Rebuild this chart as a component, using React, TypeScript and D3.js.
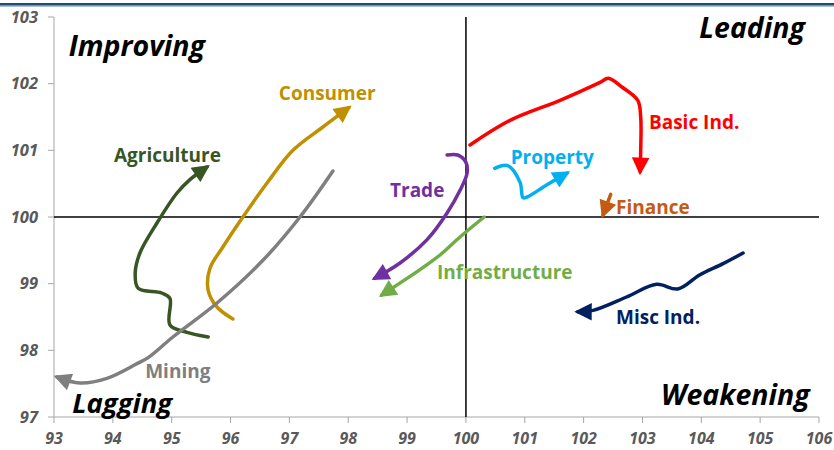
import React from "react";
import * as d3 from "d3";

const xTicks = [93, 94, 95, 96, 97, 98, 99, 100, 101, 102, 103, 104, 105, 106];
const yTicks = [97, 98, 99, 100, 101, 102, 103];

const basicInd: [number, number][] = [[100.07, 101.08], [100.75, 101.45], [101.6, 101.75], [102.28, 102.02], [102.42, 102.08], [102.65, 101.95], [102.92, 101.75], [102.97, 101.5], [102.97, 101.0], [102.96, 100.68]];
const property: [number, number][] = [[100.49, 100.73], [100.71, 100.77], [100.92, 100.52], [100.97, 100.29], [101.04, 100.3], [101.37, 100.48], [101.72, 100.66]];
const finance: [number, number][] = [[102.46, 100.34], [102.33, 100.03]];
const trade: [number, number][] = [[99.68, 100.93], [99.86, 100.93], [100.0, 100.82], [100.02, 100.66], [99.9, 100.4], [99.68, 100.06], [99.34, 99.66], [98.88, 99.31], [98.45, 99.08]];
const infrastructure: [number, number][] = [[100.31, 100.0], [99.9, 99.7], [99.56, 99.43], [99.22, 99.21], [98.76, 98.94], [98.57, 98.83]];
const miscInd: [number, number][] = [[104.71, 99.46], [104.37, 99.3], [103.97, 99.13], [103.6, 98.92], [103.24, 98.99], [102.73, 98.8], [102.16, 98.6], [101.9, 98.58]];
const agriculture: [number, number][] = [[95.62, 98.2], [95.26, 98.27], [94.97, 98.38], [94.97, 98.78], [94.83, 98.86], [94.43, 98.93], [94.38, 99.16], [94.46, 99.46], [94.75, 99.91], [95.09, 100.36], [95.31, 100.56], [95.6, 100.75]];
const consumer: [number, number][] = [[96.04, 98.47], [95.77, 98.65], [95.62, 98.9], [95.65, 99.23], [95.87, 99.55], [96.21, 100.0], [96.62, 100.51], [97.06, 101.0], [97.57, 101.35], [98.01, 101.64]];
const mining: [number, number][] = [[97.74, 100.69], [97.18, 100.0], [96.55, 99.35], [95.77, 98.71], [95.02, 98.2], [94.6, 97.89], [94.41, 97.8], [93.9, 97.58], [93.44, 97.51], [93.05, 97.6]];

const seriesNames = ["Basic Ind.", "Property", "Finance", "Trade", "Infrastructure", "Misc Ind.", "Agriculture", "Consumer", "Mining"];
const seriesData = [basicInd, property, finance, trade, infrastructure, miscInd, agriculture, consumer, mining];
const seriesColors = ["#FF0000", "#00B0F0", "#C55A11", "#7030A0", "#70AD47", "#002060", "#375623", "#BF9000", "#7F7F7F"];
const labelPos: [number, number][] = [[103.11, 101.32], [100.76, 100.8], [102.55, 100.045], [98.71, 100.3], [99.51, 99.07], [102.55, 98.4], [94.02, 100.83], [96.82, 101.76], [94.55, 97.58]];
const quadrantLabels = ["Improving", "Leading", "Lagging", "Weakening"];
const quadrantPos: [number, number][] = [[93.25, 102.42], [105.76, 102.68], [93.31, 97.06], [105.84, 97.18]];
const quadrantAnchor = ["start", "end", "start", "end"];

export default function App() {
  const W = 834, H = 450;
  const x = d3.scaleLinear().domain([93, 106]).range([54, 819]);
  const y = d3.scaleLinear().domain([97, 103]).range([417, 17]);
  const line = d3.line<[number, number]>().x(d => x(d[0])).y(d => y(d[1])).curve(d3.curveCatmullRom.alpha(0.5));
  const font = "'Open Sans', Lato, sans-serif";
  return (
    <svg width={W} height={H} style={{ position: "absolute", left: 0, top: 0, background: "#fff" }}>
      <defs>
        {seriesColors.map((c, i) => (
          <marker key={i} id={`arr${i}`} viewBox="0 0 10 10" refX="8" refY="5" markerWidth="5.5" markerHeight="5" markerUnits="strokeWidth" orient="auto">
            <path d="M0,0 L10,5 L0,10 z" fill={c} />
          </marker>
        ))}
      </defs>
      <rect x={0} y={3} width={W} height={2.5} fill="#1F4E79" />
      <rect x={0} y={5.5} width={W} height={1} fill="#5B7FA8" />
      <line x1={x(93)} x2={x(93)} y1={y(103)} y2={y(97)} stroke="#A6A6A6" strokeWidth={1} />
      <line x1={x(93)} x2={x(106)} y1={y(97)} y2={y(97)} stroke="#A6A6A6" strokeWidth={1} />
      {yTicks.map(t => (
        <g key={t}>
          <line x1={x(93) - 6} x2={x(93)} y1={y(t)} y2={y(t)} stroke="#A6A6A6" />
          <text x={38} y={y(t) + 5.5} textAnchor="end" fontFamily={font} fontStyle="italic" fontWeight="bold" fontSize={16.5} fill="#595959">{t}</text>
        </g>
      ))}
      {xTicks.map(t => (
        <g key={t}>
          <line x1={x(t)} x2={x(t)} y1={y(97)} y2={y(97) + 6} stroke="#A6A6A6" />
          <text x={x(t)} y={444} textAnchor="middle" fontFamily={font} fontStyle="italic" fontWeight="bold" fontSize={16} fill="#595959">{t}</text>
        </g>
      ))}
      <line x1={x(93)} x2={x(106)} y1={y(100)} y2={y(100)} stroke="#000" strokeWidth={1.5} />
      <line x1={x(100)} x2={x(100)} y1={y(103)} y2={y(97)} stroke="#000" strokeWidth={1.5} />
      {quadrantLabels.map((q, i) => (
        <text key={q} x={x(quadrantPos[i][0])} y={y(quadrantPos[i][1])} textAnchor={quadrantAnchor[i] as any} fontFamily={font} fontStyle="italic" fontWeight="bold" fontSize={i === 2 ? 27.5 : 28.5} fill="#000">{q}</text>
      ))}
      {seriesData.map((d, i) => (
        <path key={i} d={line(d) || ""} fill="none" stroke={seriesColors[i]} strokeWidth={3.5} strokeLinejoin="round" strokeLinecap="round" markerEnd={`url(#arr${i})`} />
      ))}
      {seriesNames.map((n, i) => (
        <text key={n} x={x(labelPos[i][0])} y={y(labelPos[i][1])} fontFamily={font} fontWeight="bold" fontSize={19} fill={seriesColors[i]}>{n}</text>
      ))}
    </svg>
  );
}
